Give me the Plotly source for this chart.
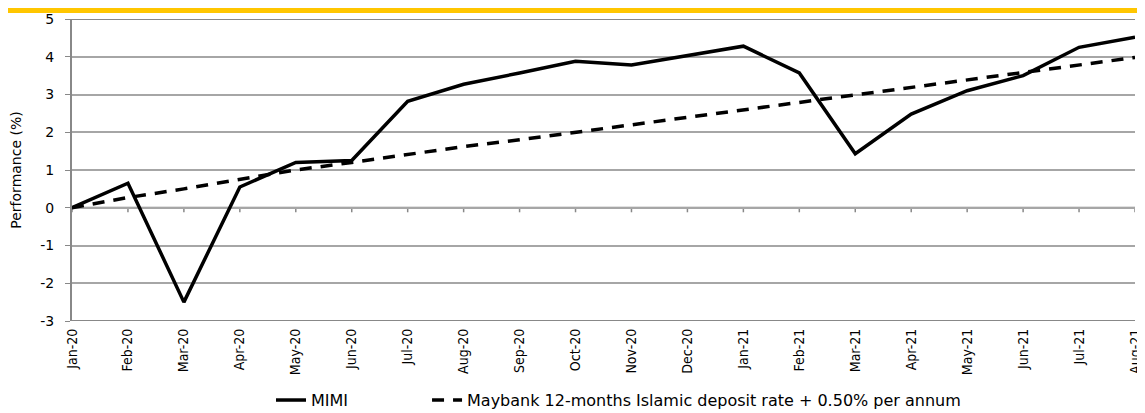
import plotly.graph_objects as go

months = ["Jan-20","Feb-20","Mar-20","Apr-20","May-20","Jun-20","Jul-20","Aug-20","Sep-20","Oct-20",
          "Nov-20","Dec-20","Jan-21","Feb-21","Mar-21","Apr-21","May-21","Jun-21","Jul-21","Aug-21"]
mimi = [0, 0.65, -2.5, 0.55, 1.2, 1.25, 2.82, 3.27, 3.57, 3.88,
        3.78, 4.03, 4.28, 3.57, 1.43, 2.48, 3.1, 3.5, 4.25, 4.52]
bench = [0, 0.27, 0.5, 0.75, 1.0, 1.2, 1.42, 1.62, 1.8, 2.0,
         2.2, 2.4, 2.6, 2.8, 3.0, 3.2, 3.4, 3.6, 3.8, 3.98]
y_ticks = [-3, -2, -1, 0, 1, 2, 3, 4, 5]
y_ticktext = ["-3", "-2", "-1", "0", "1", "2", "3", "4", "5"]

xs = list(range(len(months)))
fig = go.Figure()
fig.add_trace(go.Scatter(x=xs, y=mimi, mode="lines", name="MIMI", legend="legend",
                         line=dict(color="black", width=3.5)))
fig.add_trace(go.Scatter(x=xs, y=bench, mode="lines", legend="legend2",
                         name="Maybank 12-months Islamic deposit rate + 0.50% per annum",
                         line=dict(color="black", width=3.5, dash="12px,9px")))

leg_common = dict(orientation="h", xanchor="left", y=-0.262, yanchor="middle",
                  font=dict(size=16), bgcolor="rgba(0,0,0,0)")
fig.update_layout(
    width=1137, height=405,
    margin=dict(l=64, r=10, t=11, b=92, autoexpand=False),
    paper_bgcolor="white", plot_bgcolor="white",
    font=dict(family="DejaVu Sans", size=12, color="black"),
    showlegend=True,
    legend=dict(x=0.1872, **leg_common),
    legend2=dict(x=0.334, **leg_common),
    xaxis=dict(range=[0, len(months) - 1], tickmode="array",
               tickvals=xs, ticktext=months, tickangle=-90,
               showgrid=False, zeroline=False, showline=False, ticks="",
               ticklabeloverflow="allow", automargin=False, ticklabelstandoff=4,
               tickfont=dict(size=14, family="DejaVu Sans Condensed")),
    yaxis=dict(range=[-3, 5], tickmode="array", tickvals=y_ticks, ticktext=y_ticktext,
               showgrid=True, gridcolor="#a6a6a6", gridwidth=1.5,
               zeroline=False, showline=True, linecolor="#888888", linewidth=2,
               ticks="outside", ticklen=5, tickcolor="#888888", automargin=False,
               ticklabelstandoff=8,
               tickfont=dict(size=14),
               title=dict(text="Performance (%)", font=dict(size=14), standoff=18)),
    shapes=[
        dict(type="rect", xref="paper", yref="paper", x0=-0.07, x1=1.02, y0=1.02, y1=1.05,
             fillcolor="#FFC600", line=dict(width=0), layer="above"),
        dict(type="line", xref="paper", yref="y", x0=0, x1=1, y0=-3, y1=-3,
             line=dict(color="#888888", width=2)),
        dict(type="line", xref="paper", yref="y", x0=0, x1=1, y0=5, y1=5,
             line=dict(color="#888888", width=2)),
        dict(type="line", xref="paper", yref="y", x0=0, x1=1, y0=0, y1=0,
             line=dict(color="#888888", width=2), layer="below"),
    ],
)
for i in xs:
    fig.add_shape(type="line", xref="x", yref="paper", x0=i, x1=i, y0=0.375 - 0.015, y1=0.375,
                  line=dict(color="#888888", width=1.5), layer="below")

fig.write_html("out.html")
